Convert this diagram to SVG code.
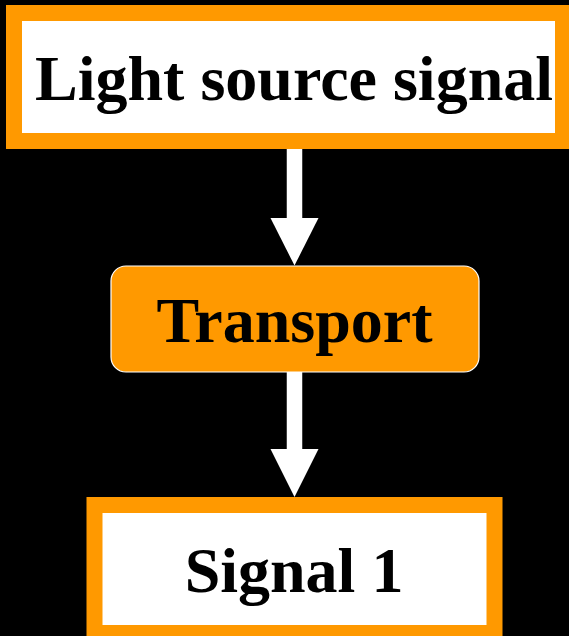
<svg xmlns="http://www.w3.org/2000/svg" width="569" height="636" viewBox="0 0 569 636">
<style>
.lbl{font-family:"Liberation Serif","Times New Roman",serif;font-weight:bold;font-size:64px;fill:#000;text-anchor:middle}
.sq{fill:#fff;stroke:#FF9900;stroke-width:16}
.shaft{stroke:#fff;stroke-width:15.5;fill:none}
.head{fill:#fff}
</style>
<rect width="569" height="636" fill="#000"/>
<g id="connectors">
<path class="shaft" d="M294.5,148 V220"/>
<polygon class="head" points="270.5,218 318.5,218 294.5,265.5"/>
<path class="shaft" d="M294.5,372 V451"/>
<polygon class="head" points="270.5,449 318.5,449 294.5,497"/>
</g>
<g id="light-source-signal">
<rect class="sq" x="14" y="13" width="549" height="128"/>
<text class="lbl" x="294" y="100">Light source signal</text>
</g>
<g id="transport">
<rect x="111" y="266" width="368" height="106" rx="15" ry="15" fill="#FF9900" stroke="#fff" stroke-width="1.2"/>
<text class="lbl" x="294.5" y="342">Transport</text>
</g>
<g id="signal-1">
<rect class="sq" x="94.5" y="505" width="400" height="128"/>
<text class="lbl" x="294" y="592">Signal 1</text>
</g>
</svg>
